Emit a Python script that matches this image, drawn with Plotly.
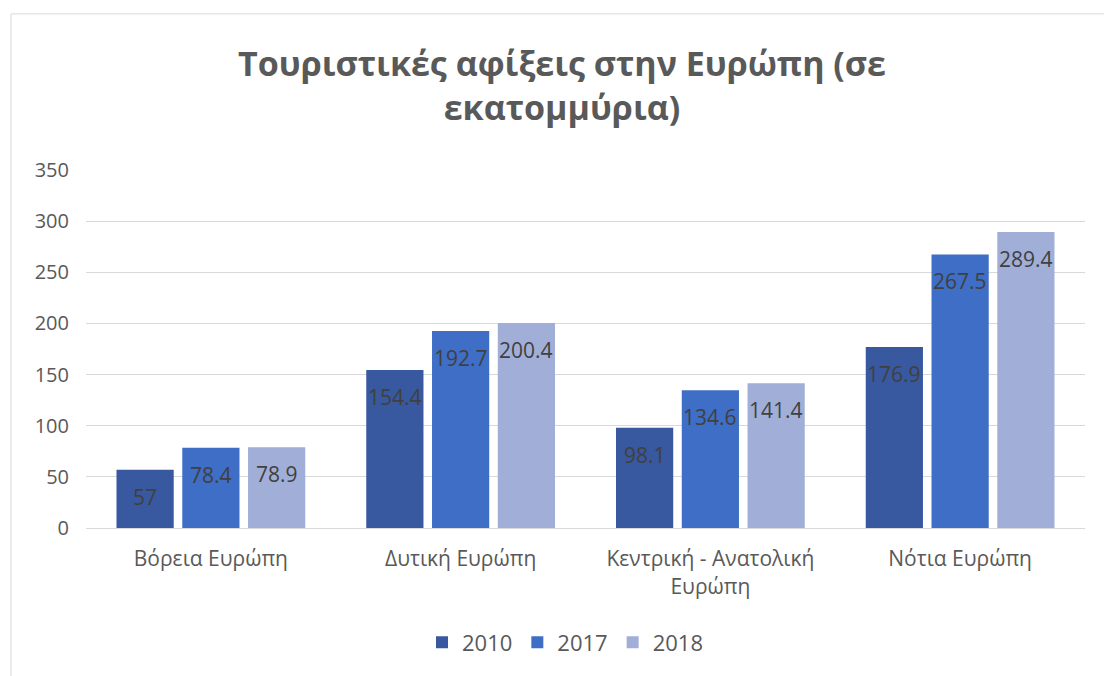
import plotly.graph_objects as go

categories = ["Βόρεια Ευρώπη", "Δυτική Ευρώπη", "Κεντρική - Ανατολική<br>Ευρώπη", "Νότια Ευρώπη"]
series_names = ["2010", "2017", "2018"]
values_2010 = [57, 154.4, 98.1, 176.9]
values_2017 = [78.4, 192.7, 134.6, 267.5]
values_2018 = [78.9, 200.4, 141.4, 289.4]
colors = ["#38589f", "#3f6ec6", "#a1afd8"]
title_text = "Τουριστικές αφίξεις στην Ευρώπη (σε<br>εκατομμύρια)"

all_values = [values_2010, values_2017, values_2018]

FONT = "Open Sans"
GREY = "#595959"
bargap = 0.21
bargroupgap = 0.13

fig = go.Figure()
for name, vals, col in zip(series_names, all_values, colors):
    fig.add_trace(go.Bar(
        name=name, x=list(range(len(categories))), y=vals,
        marker=dict(color=col, line=dict(width=0)),
    ))

# data labels near the top inside each bar
n = len(series_names)
slot = (1 - bargap) / n
annotations = []
for j, vals in enumerate(all_values):
    for i, v in enumerate(vals):
        annotations.append(dict(
            x=i + (j - (n - 1) / 2) * slot, y=v, xref="x", yref="y",
            text=f"{v:g}", showarrow=False, yanchor="middle", yshift=-27,
            font=dict(family=FONT, size=21, color="#404040"),
        ))

L, R, T, B = 86, 19, 170, 146
pw, ph = 1104 - L - R, 676 - T - B

fig.update_layout(
    width=1104, height=676,
    margin=dict(l=L, r=R, t=T, b=B),
    paper_bgcolor="white", plot_bgcolor="white",
    barmode="group", bargap=bargap, bargroupgap=bargroupgap,
    title=dict(text=title_text, x=(562 - L) / pw, xref="paper", xanchor="center",
               y=1 - 76 / 676, yref="container", yanchor="middle",
               font=dict(family=FONT, size=34, color=GREY, weight="bold")),
    xaxis=dict(tickmode="array", tickvals=list(range(len(categories))), ticktext=categories,
               range=[-0.5, len(categories) - 0.5],
               showgrid=False, showline=True, linecolor="#d9d9d9", linewidth=1,
               ticks="", ticklabelstandoff=12,
               tickfont=dict(family=FONT, size=21, color=GREY)),
    yaxis=dict(range=[0, 350], dtick=50, showgrid=True, gridcolor="#d9d9d9", gridwidth=1,
               zeroline=False, showline=False, ticks="", ticklabelstandoff=16,
               tickfont=dict(family=FONT, size=20, color=GREY)),
    legend=dict(orientation="h", x=(565 - L) / pw, xanchor="center",
                y=(530 - 645) / ph, yanchor="middle",
                font=dict(family=FONT, size=22, color=GREY)),
    annotations=annotations,
    shapes=[dict(type="rect", xref="paper", yref="paper",
                 x0=(11 - L) / pw, x1=1.1, y0=1 + (T - 13) / ph, y1=-0.6,
                 line=dict(color="#d9d9d9", width=1), fillcolor="rgba(0,0,0,0)", layer="below")],
)

fig.write_html("out.html", config={"displayModeBar": False},
               post_script="document.body.style.margin='0';document.body.style.overflow='hidden';")
